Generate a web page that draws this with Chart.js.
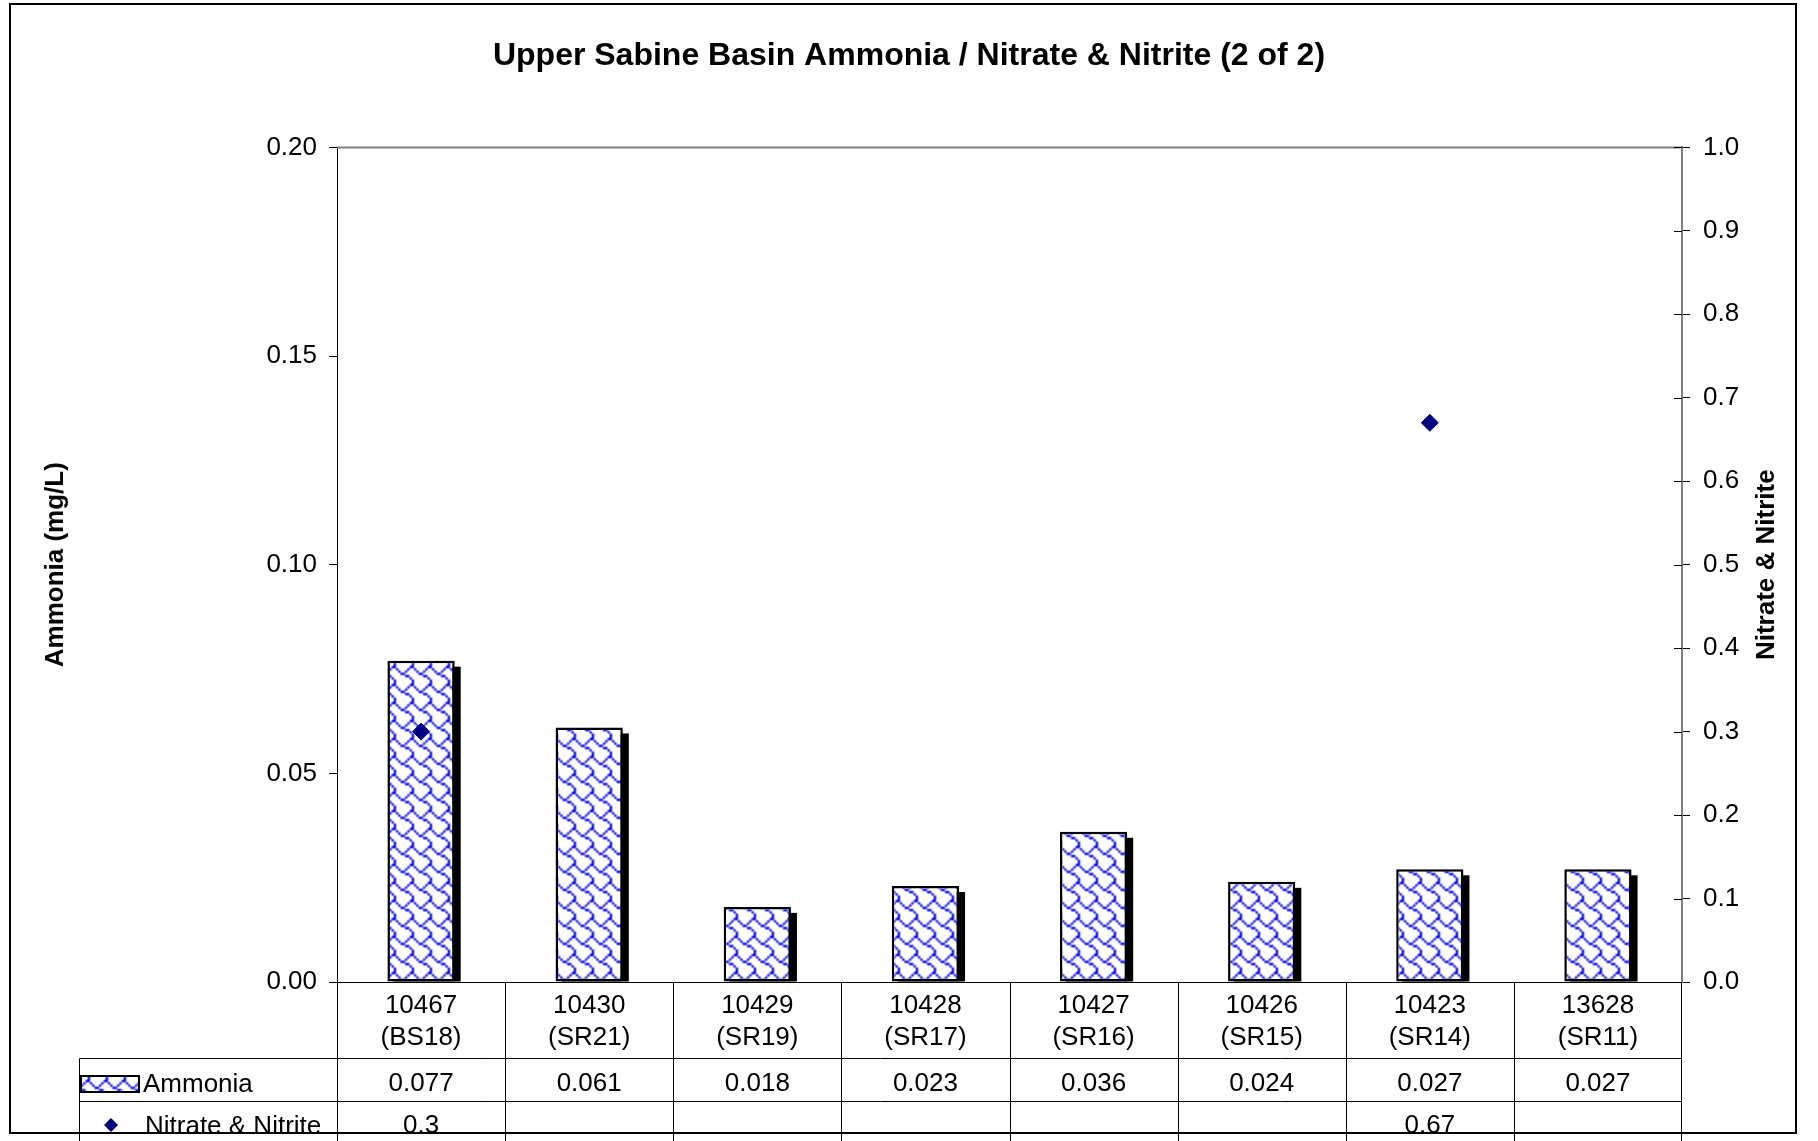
<!DOCTYPE html>
<html><head><meta charset="utf-8">
<script src="https://cdn.jsdelivr.net/npm/chart.js@4/dist/chart.umd.min.js"></script>
<style>html,body{margin:0;padding:0;background:#fff}canvas{display:block}</style>
</head><body>
<canvas id="c" width="1818" height="1141"></canvas>
<script>
// ---- data ----
const TITLE = 'Upper Sabine Basin Ammonia / Nitrate & Nitrite (2 of 2)';
const Y_TITLE = 'Ammonia (mg/L)';
const Y2_TITLE = 'Nitrate & Nitrite';
const SERIES_NAMES = ['Ammonia', 'Nitrate & Nitrite'];
const stations = ['10467','10430','10429','10428','10427','10426','10423','13628'];
const segments = ['(BS18)','(SR21)','(SR19)','(SR17)','(SR16)','(SR15)','(SR14)','(SR11)'];
const ammonia = [0.077,0.061,0.018,0.023,0.036,0.024,0.027,0.027];
const nitrate = [0.3,null,null,null,null,null,0.67,null];
const yAxis = {min:0, max:0.2, step:0.05, decimals:2};
const y2Axis = {min:0, max:1.0, step:0.1, decimals:1};

// ---- pattern (shingle) ----
const FONT = "'Liberation Sans', Arial, sans-serif";
function makePattern(){
  const bits=[0x03,0x84,0x48,0x30,0x0c,0x02,0x01,0x01];
  const small=document.createElement('canvas'); small.width=24; small.height=24;
  const s=small.getContext('2d'); s.fillStyle='#fff'; s.fillRect(0,0,24,24);
  s.fillStyle='#0000ff';
  for(let ty=0;ty<3;ty++)for(let tx=0;tx<3;tx++)
    for(let y=0;y<8;y++)for(let x=0;x<8;x++) if(bits[y]&(0x80>>x)) s.fillRect(tx*8+x,ty*8+y,1,1);
  const S=18;
  const big=document.createElement('canvas'); big.width=S*3; big.height=S*3;
  const b=big.getContext('2d'); b.imageSmoothingEnabled=true; b.imageSmoothingQuality='high';
  b.drawImage(small,0,0,S*3,S*3);
  const tile=document.createElement('canvas'); tile.width=S; tile.height=S;
  tile.getContext('2d').drawImage(big,S,S,S,S,0,0,S,S);
  return document.getElementById('c').getContext('2d').createPattern(tile,'repeat');
}
const pattern = makePattern();

Chart.defaults.font.family = FONT;
Chart.defaults.color = '#000';

const deco = {
  id:'deco',
  beforeDatasetsDraw(chart){
    const ctx=chart.ctx;
    const meta=chart.getDatasetMeta(chart.data.datasets.findIndex(d=>d.type==='bar'));
    ctx.save(); ctx.fillStyle='#000';
    meta.data.forEach(el=>{
      const p=el.getProps(['x','y','base','width'],true);
      ctx.fillRect(p.x-p.width/2+6, p.y+6, p.width, p.base-p.y-6);
    });
    ctx.restore();
  },
  afterDraw(chart){
    const ctx=chart.ctx, a=chart.chartArea, xs=chart.scales.x, y2=chart.scales.y2;
    const H=chart.height;
    ctx.save();
    // top border of plot area
    ctx.strokeStyle='#808080'; ctx.lineWidth=2;
    ctx.beginPath(); ctx.moveTo(a.left,a.top); ctx.lineTo(a.right+1,a.top); ctx.stroke();
    // inner half of right axis ticks
    ctx.strokeStyle='#000'; ctx.lineWidth=1;
    y2.ticks.forEach(t=>{ const py=Math.round(y2.getPixelForValue(t.value))+0.5;
      ctx.beginPath(); ctx.moveTo(a.right-8,py); ctx.lineTo(a.right,py); ctx.stroke(); });
    // table
    const n=stations.length;
    const cw=(a.right-a.left)/n;
    const row1=1058.5, row2=1101.5, tableLeft=79.5;
    ctx.strokeStyle='#000'; ctx.lineWidth=1;
    for(let i=0;i<=n;i++){
      const x = i===n ? Math.round(a.right)-0.5 : Math.round(xs.getPixelForValue(i)-cw/2)+0.5;
      ctx.beginPath(); ctx.moveTo(x,a.bottom); ctx.lineTo(x,H); ctx.stroke();
    }
    ctx.beginPath(); ctx.moveTo(tableLeft,row1); ctx.lineTo(tableLeft,H); ctx.stroke();
    [row1,row2].forEach(r=>{ ctx.beginPath(); ctx.moveTo(tableLeft,r); ctx.lineTo(a.right,r); ctx.stroke(); });
    // table values
    ctx.fillStyle='#000'; ctx.font='26px '+FONT; ctx.textAlign='center'; ctx.textBaseline='middle';
    for(let i=0;i<n;i++){
      const x=xs.getPixelForValue(i);
      if(ammonia[i]!=null) ctx.fillText(String(ammonia[i]), x, 1084);
      if(nitrate[i]!=null) ctx.fillText(String(nitrate[i]), x, 1126);
    }
    // legend keys
    ctx.fillStyle=pattern; ctx.fillRect(81,1076,58,16);
    ctx.strokeStyle='#000'; ctx.lineWidth=2; ctx.strokeRect(81,1076,58,16);
    ctx.fillStyle='#000080';
    ctx.beginPath(); ctx.moveTo(111,1118); ctx.lineTo(118,1125); ctx.lineTo(111,1132); ctx.lineTo(104,1125); ctx.closePath(); ctx.fill();
    ctx.fillStyle='#000'; ctx.textAlign='left';
    ctx.fillText(SERIES_NAMES[0], 143, 1085);
    ctx.fillText(SERIES_NAMES[1], 145, 1127);
    // right axis title (reads bottom to top)
    ctx.save(); ctx.translate(1774,(a.top+a.bottom)/2); ctx.rotate(-Math.PI/2);
    ctx.font='bold 26px '+FONT; ctx.textAlign='center'; ctx.textBaseline='alphabetic';
    ctx.fillText(Y2_TITLE,0,0); ctx.restore();
    // outer frame
    ctx.strokeStyle='#000'; ctx.lineWidth=2;
    ctx.strokeRect(10,4,1786,1129);
    ctx.restore();
  }
};

new Chart(document.getElementById('c'), {
  data:{
    labels: stations.map((s,i)=>[s, segments[i]]),
    datasets:[
      {type:'line', label:SERIES_NAMES[1], data:nitrate, yAxisID:'y2', showLine:false,
       pointStyle:'rectRot', pointRadius:8.5, pointBackgroundColor:'#000080', pointBorderColor:'#000080',
       pointBorderWidth:1, order:0},
      {type:'bar', label:SERIES_NAMES[0], data:ammonia, yAxisID:'y', backgroundColor:pattern,
       borderColor:'#000', borderWidth:2.5, borderSkipped:false,
       categoryPercentage:1.0, barPercentage:0.4, order:1}
    ]
  },
  options:{
    responsive:false, animation:false, events:[],
    layout:{padding:0},
    plugins:{
      legend:{display:false}, tooltip:{enabled:false},
      title:{display:true, text:TITLE, color:'#000', font:{size:32, weight:'bold', family:FONT, lineHeight:1.2},
             padding:{top:37,bottom:72}}
    },
    scales:{
      x:{type:'category', offset:true,
         grid:{display:true, drawOnChartArea:false, drawTicks:false, color:'rgba(0,0,0,0)'},
         border:{display:true, color:'#000', width:1},
         ticks:{autoSkip:false, maxRotation:0, minRotation:0, padding:8, color:'#000', font:{size:26, lineHeight:1.23}},
         afterFit(s){ s.height=159; }},
      y:{position:'left', min:yAxis.min, max:yAxis.max,
         grid:{drawOnChartArea:false, drawTicks:true, tickLength:8, tickColor:'#000', tickWidth:1},
         border:{display:true, color:'#000', width:1},
         ticks:{stepSize:yAxis.step, padding:12, font:{size:26}, color:'#000',
                callback:v=>Number(v).toFixed(yAxis.decimals)},
         title:{display:true, text:Y_TITLE, color:'#000', font:{size:26, weight:'bold', lineHeight:1.2}, padding:{top:40,bottom:0}},
         afterFit(s){ s.width=337; }},
      y2:{position:'right', min:y2Axis.min, max:y2Axis.max,
         grid:{drawOnChartArea:false, drawTicks:true, tickLength:8, tickColor:'#000', tickWidth:1},
         border:{display:true, color:'#808080', width:2},
         ticks:{stepSize:y2Axis.step, padding:13, font:{size:26}, color:'#000',
                callback:v=>Number(v).toFixed(y2Axis.decimals)},
         afterFit(s){ s.width=136; }}
    }
  },
  plugins:[deco]
});
</script>
</body></html>
